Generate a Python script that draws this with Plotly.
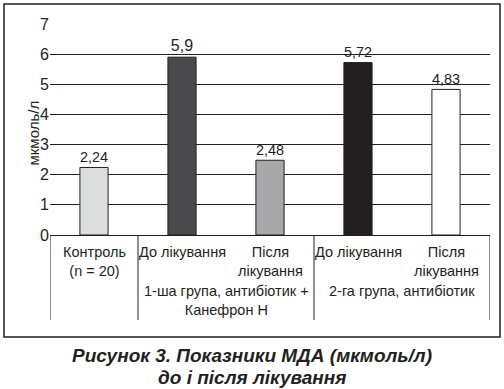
import plotly.graph_objects as go

categories = ["Контроль", "До лікування 1", "Після лікування 1", "До лікування 2", "Після лікування 2"]
tick_labels = ["Контроль<br>(n = 20)", "До лікування", "Після<br>лікування", "До лікування", "Після<br>лікування"]
values = [2.24, 5.9, 2.48, 5.72, 4.83]
value_labels = [str(v).replace(".", ",") for v in values]
bar_colors = ["#dcdddd", "#4a4a4c", "#a7a8aa", "#231f20", "#ffffff"]
group_labels = ["1-ша група, антибіотик +<br>Канефрон Н", "2-га група, антибіотик"]
group_centers = [1.5, 3.5]
y_ticks = [0, 1, 2, 3, 4, 5, 6, 7]
caption_lines = ["Рисунок 3. Показники МДА (мкмоль/л)", "до і після лікування"]

INK = "#231f20"
FONT = "Liberation Sans, Arial, sans-serif"

W, H = 504, 389
L, R, T, B = 50, 14, 24, 154
pw, ph = W - L - R, H - T - B


def px_to_paper_x(px):
    return (px - L) / pw


def px_to_paper_y(py):
    return (H - B - py) / ph


fig = go.Figure()
fig.add_trace(go.Bar(
    x=list(range(len(categories))),
    y=values,
    width=0.32,
    marker=dict(color=bar_colors, line=dict(color=INK, width=1)),
    text=value_labels,
    textposition="outside",
    textfont=dict(family=FONT, size=16, color=INK),
    cliponaxis=False,
    hoverinfo="skip",
))

shapes = []
for xv in [-0.5, 0.5, 2.5, 4.5]:
    shapes.append(dict(type="line", xref="x", yref="paper", x0=xv, x1=xv,
                       y0=0, y1=px_to_paper_y(320), line=dict(color=INK, width=1)))
shapes.append(dict(type="rect", xref="paper", yref="paper",
                   x0=px_to_paper_x(4), x1=px_to_paper_x(500),
                   y0=px_to_paper_y(337), y1=px_to_paper_y(4),
                   line=dict(color=INK, width=1.5), layer="below"))

annotations = []
for i, lab in enumerate(tick_labels):
    annotations.append(dict(x=i, xref="x", y=px_to_paper_y(242), yref="paper",
                            text=lab, showarrow=False, yanchor="top", xanchor="center",
                            font=dict(family=FONT, size=14.5, color=INK)))
for c, lab in zip(group_centers, group_labels):
    annotations.append(dict(x=c, xref="x", y=px_to_paper_y(281), yref="paper",
                            text=lab, showarrow=False, yanchor="top", xanchor="center",
                            font=dict(family=FONT, size=14.5, color=INK)))
annotations.append(dict(x=px_to_paper_x(22), xref="paper", y=px_to_paper_y(133), yref="paper",
                        text="мкмоль/л", textangle=-90, showarrow=False,
                        font=dict(family=FONT, size=15, color=INK)))
for line, py in zip(caption_lines, [355, 377]):
    annotations.append(dict(x=px_to_paper_x(252), xref="paper", y=px_to_paper_y(py), yref="paper",
                            text=f"<b><i>{line}</i></b>",
                            showarrow=False, xanchor="center", yanchor="middle",
                            font=dict(family=FONT, size=19, color=INK)))

fig.update_layout(
    width=W, height=H,
    margin=dict(l=L, r=R, t=T, b=B, pad=0),
    paper_bgcolor="white", plot_bgcolor="white",
    showlegend=False,
    shapes=shapes,
    annotations=annotations,
    xaxis=dict(range=[-0.5, 4.5], showticklabels=False, showgrid=False, zeroline=False,
               showline=True, linecolor=INK, linewidth=1, ticks="", fixedrange=True),
    yaxis=dict(range=[0, 7], tickvals=y_ticks, showgrid=True, gridcolor=INK, gridwidth=1,
               zeroline=False, showline=False, ticks="",
               tickfont=dict(family=FONT, size=16, color=INK), fixedrange=True),
)

fig.write_html("out.html", config={"displayModeBar": False},
               post_script="document.body.style.margin='0';")
